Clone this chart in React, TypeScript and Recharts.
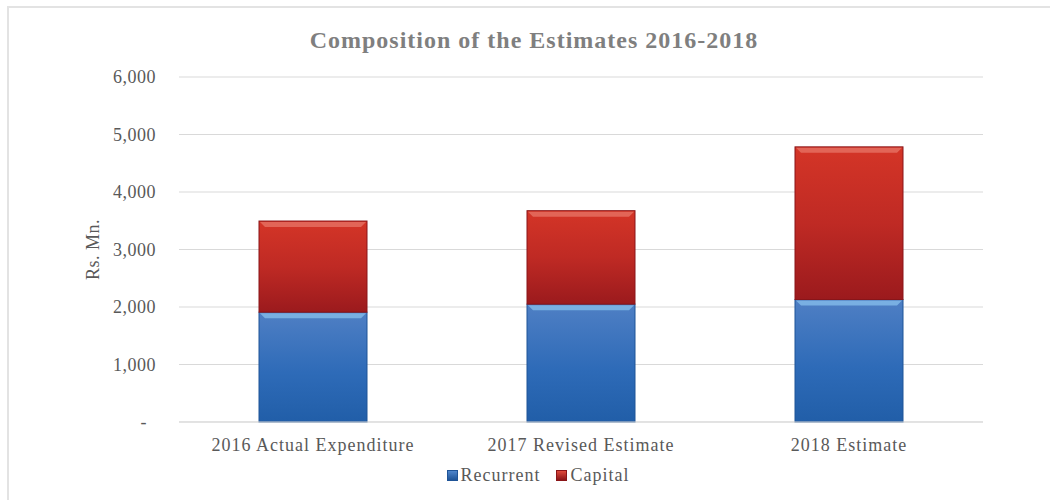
import { BarChart, Bar, XAxis, YAxis, CartesianGrid, Label } from 'recharts'

const categories = ['2016 Actual Expenditure', '2017  Revised Estimate', '2018 Estimate']
const recurrent = [1910, 2050, 2130]
const capital = [1585, 1625, 2655]
const yTicks = [0, 1000, 2000, 3000, 4000, 5000, 6000]

const data = categories.map((name, i) => ({ name, recurrent: recurrent[i], capital: capital[i] }))

const FONT = '"Liberation Serif", "DejaVu Serif", serif'
const TEXT = '#595959'

const fmt = (v: number) => (v === 0 ? '-' : v.toLocaleString('en-US'))

// y tick: the zero shows as a dash, set a little left like Excel's accounting format
function YTick(props: any) {
  const { x, y, payload } = props
  const isZero = payload.value === 0
  return (
    <text
      x={isZero ? x - 9 : x}
      y={y}
      dy="0.355em"
      textAnchor="end"
      fill={TEXT}
      style={{ fontSize: 18, fontFamily: FONT, letterSpacing: 0.5 }}
    >
      {fmt(payload.value)}
    </text>
  )
}

function BevelBar(props: any) {
  const { x, y, width, height, grad, light, dark } = props
  if (!height || height <= 0) return null
  return (
    <g>
      <rect x={x} y={y} width={width} height={height} fill={`url(#${grad})`} />
      <rect x={x} y={y} width={width} height={height} fill="none" stroke={dark} strokeWidth={1} />
      <polygon
        points={`${x + 1},${y + 1} ${x + width - 1},${y + 1} ${x + width - 6},${y + 6} ${x + 6},${y + 6}`}
        fill={light}
        opacity={0.7}
      />
    </g>
  )
}

function LegendIcon({ from, to }: { from: string; to: string }) {
  return (
    <span
      style={{
        display: 'inline-block',
        width: 11,
        height: 11,
        marginRight: 3,
        background: `linear-gradient(${from}, ${to})`,
        border: `1px solid ${to}`,
        boxSizing: 'border-box',
      }}
    />
  )
}

export default function App() {
  return (
    <div style={{ position: 'absolute', left: 0, top: 0, width: 1050, height: 500, background: '#fff', fontFamily: FONT }}>
      <div style={{ position: 'absolute', left: 7, top: 6, width: 1043, height: 494, borderTop: '2px solid #e3e3e3', borderLeft: '2px solid #e3e3e3' }} />
      <div
        style={{
          position: 'absolute',
          left: 0,
          width: 1068,
          top: 27,
          textAlign: 'center',
          fontSize: 24,
          fontWeight: 'bold',
          letterSpacing: 1,
          color: '#7f7f7f',
        }}
      >
        Composition of the Estimates 2016-2018
      </div>
      <div style={{ position: 'absolute', left: 0, top: 0 }}>
        <BarChart width={1050} height={500} data={data} margin={{ top: 77, right: 67, bottom: 48, left: 0 }} barSize={108}>
          <defs>
            <linearGradient id="gBlue" x1="0" y1="0" x2="0" y2="1">
              <stop offset="0%" stopColor="#4f7fc4" />
              <stop offset="55%" stopColor="#2e6bb8" />
              <stop offset="100%" stopColor="#215ea8" />
            </linearGradient>
            <linearGradient id="gRed" x1="0" y1="0" x2="0" y2="1">
              <stop offset="0%" stopColor="#d43527" />
              <stop offset="50%" stopColor="#bf2a24" />
              <stop offset="100%" stopColor="#9b1a1d" />
            </linearGradient>
          </defs>
          <CartesianGrid vertical={false} stroke="#d9d9d9" />
          <XAxis
            dataKey="name"
            axisLine={{ stroke: '#d9d9d9' }}
            tickLine={false}
            height={30}
            tickMargin={10}
            tick={{ fontSize: 18, fill: TEXT, fontFamily: FONT, letterSpacing: 1 }}
          />
          <YAxis
            domain={[0, 6000]}
            ticks={yTicks}
            width={179}
            axisLine={false}
            tickLine={false}
            tickMargin={17}
            tick={<YTick />}
          >
            <Label
              value="Rs. Mn."
              angle={-90}
              position="insideLeft"
              offset={93}
              style={{ fontSize: 18, fill: TEXT, fontFamily: FONT, textAnchor: 'middle', letterSpacing: 0.5 }}
            />
          </YAxis>
          <Bar
            dataKey="recurrent"
            stackId="a"
            isAnimationActive={false}
            shape={(p: any) => <BevelBar {...p} grad="gBlue" light="#8cc4f0" dark="#1f5497" />}
          />
          <Bar
            dataKey="capital"
            stackId="a"
            isAnimationActive={false}
            shape={(p: any) => <BevelBar {...p} grad="gRed" light="#e87a6c" dark="#8a1518" />}
          />
        </BarChart>
      </div>
      <div
        style={{
          position: 'absolute',
          left: 0,
          width: 1076,
          top: 465,
          textAlign: 'center',
          fontSize: 18,
          letterSpacing: 1,
          color: TEXT,
        }}
      >
        <LegendIcon from="#4f86cc" to="#1f5497" />
        Recurrent
        <span style={{ display: 'inline-block', width: 16 }} />
        <LegendIcon from="#e04a3c" to="#8a1518" />
        Capital
      </div>
    </div>
  )
}
